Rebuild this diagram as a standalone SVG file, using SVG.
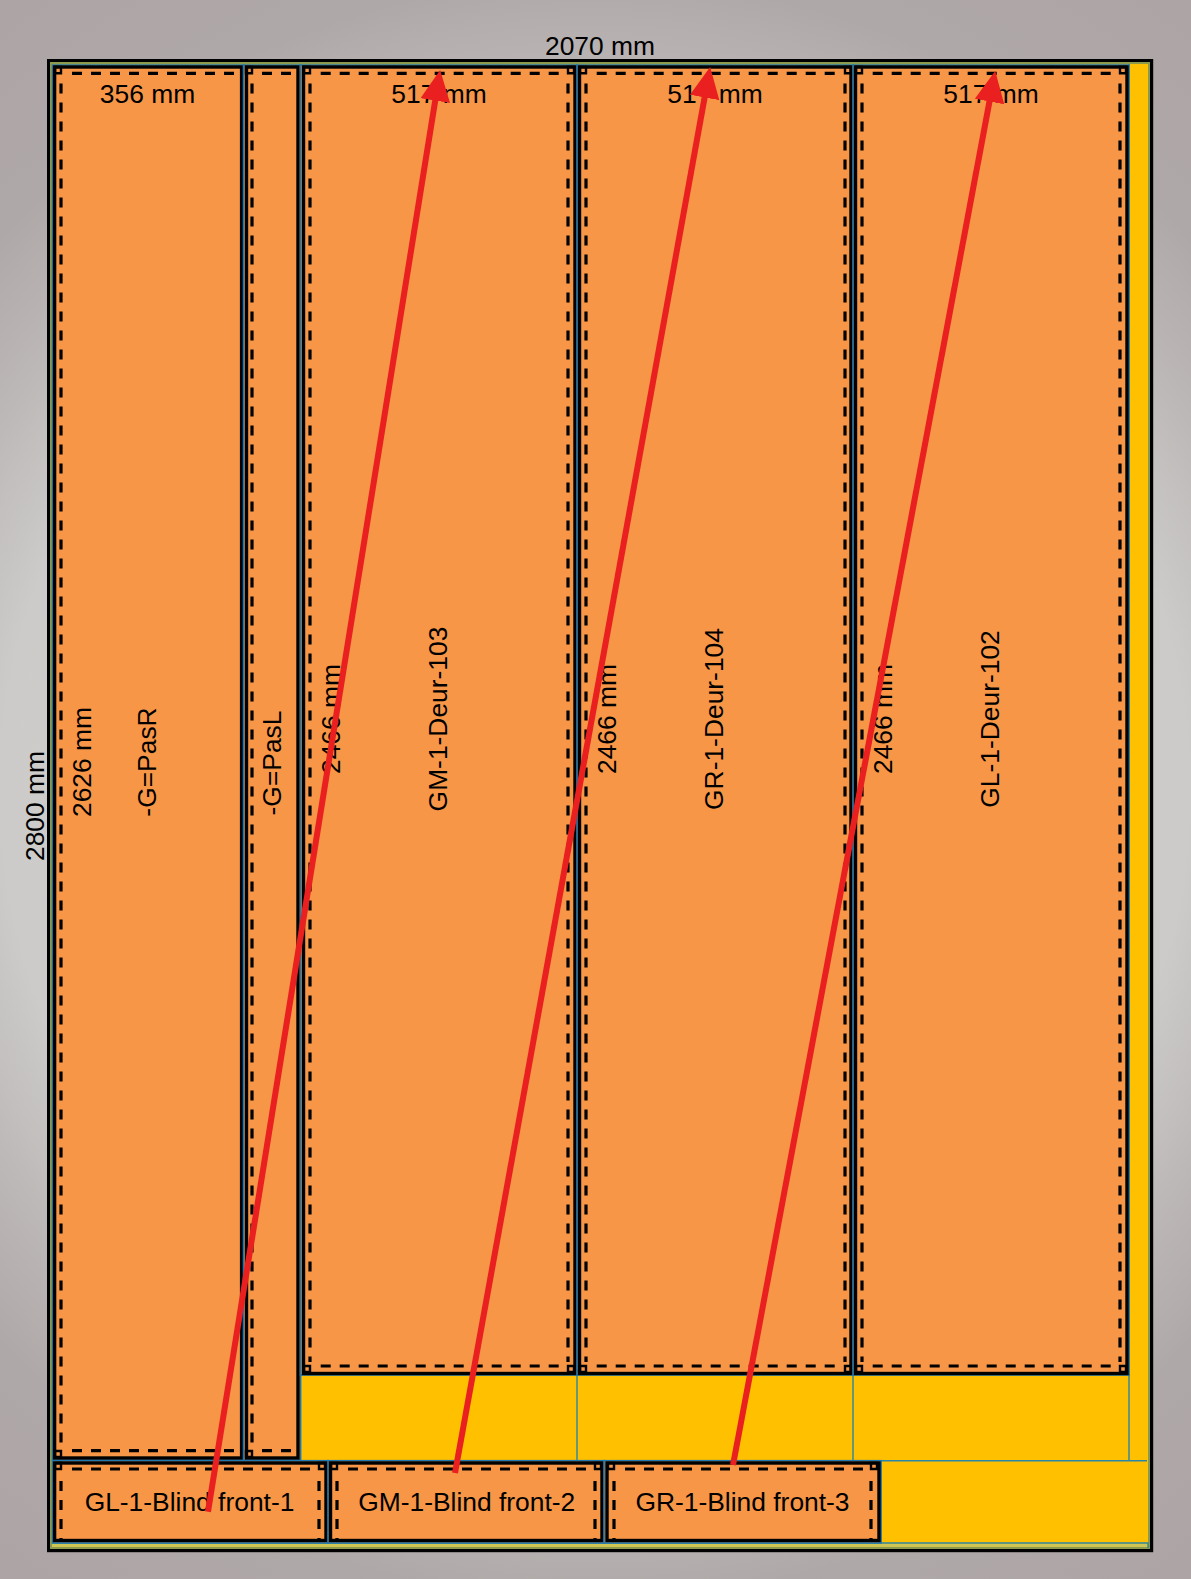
<svg xmlns="http://www.w3.org/2000/svg" width="1191" height="1579" viewBox="0 0 1191 1579">
<style>
.t{font-family:"Liberation Sans",Arial,sans-serif;font-size:26.4px;fill:#000;text-anchor:middle}
.cell{fill:#F79646;stroke:#1F78B0;stroke-width:1.6}
.grid{fill:none;stroke:#2A86A8;stroke-width:1.4}
.box{fill:none;stroke:#000;stroke-width:3.4}
.dash{fill:none;stroke:#000;stroke-width:3.2;stroke-dasharray:10 9}
.sq{fill:none;stroke:#000;stroke-width:2.4}
.arrow{fill:none;stroke:#E9201F;stroke-width:6;marker-end:url(#head)}
</style>
<defs>
<radialGradient id="bg" gradientUnits="userSpaceOnUse" cx="595" cy="790" r="990">
<stop offset="0" stop-color="#D6D5D2"/>
<stop offset="0.6" stop-color="#CCCBC9"/>
<stop offset="0.7" stop-color="#BDB9B8"/>
<stop offset="0.82" stop-color="#AFA8A8"/>
<stop offset="1" stop-color="#ADA4A5"/>
</radialGradient>
<marker id="head" markerUnits="userSpaceOnUse" markerWidth="34" markerHeight="32" refX="5" refY="15" orient="auto">
<path d="M0 0L31 15L0 30z" fill="#E9201F"/>
</marker>
</defs>
<rect width="1191" height="1579" fill="url(#bg)"/>
<g id="frame">
<rect x="48.600" y="60.600" width="1103" height="1490" fill="#FFC000" stroke="#000" stroke-width="3.2"/>
<rect x="51" y="63" width="1098" height="1485" fill="none" stroke="#8C9A4E" stroke-width="2"/>
<rect x="52" y="1544" width="1095" height="3" fill="#CFC552"/>
<path class="grid" d="M300.500 1375V1460.700M577 1375V1460.700M853 1375V1460.700M1129 64V1460.700M300 1460.700H1147M881 1460.700V1543M52.500 1543H1148V1548"/>
<text class="t" x="600" y="54.500">2070 mm</text>
<text class="t" transform="translate(44 806) rotate(-90)">2800 mm</text>
</g>
<g id="GL-PasR">
<rect class="cell" x="52.500" y="65" width="191" height="1395"/>
<rect class="box" x="54.600" y="67" width="187" height="1391"/>
<path class="sq" d="M55 67h6v6.300h-6zM55 1451h6v6h-6z"/>
<path class="dash" d="M72 73.300H236M72 1450.700H236M61 83.500V1446"/>
<text class="t" x="147.500" y="102.700">356 mm</text>
<text class="t" transform="translate(91 762) rotate(-90)">2626 mm</text>
<text class="t" transform="translate(156 762) rotate(-90)">-G=PasR</text>
</g>
<g id="GL-PasL">
<rect class="cell" x="243.500" y="65" width="57" height="1395"/>
<rect class="box" x="246.500" y="67" width="51.500" height="1391"/>
<path class="sq" d="M246 67h6v6.300h-6zM246 1451h6v6h-6z"/>
<path class="dash" d="M262 73.300H292M262 1450.700H292M252 83.500V1446"/>
<text class="t" transform="translate(280.500 763) rotate(-90)">-G=PasL</text>
</g>
<g id="GM-1-Deur-103">
<rect class="cell" x="300.500" y="65" width="276.500" height="1310"/>
<rect class="box" x="303.500" y="67" width="271.500" height="1306.500"/>
<path class="sq" d="M304 67h6v6.300h-6zM568 67h6v6.300h-6zM304 1366h6v6h-6zM568 1366h6v6h-6z"/>
<path class="dash" d="M320.700 73.300H564M320.700 1366H564M310 83.500V1362M568 83.500V1362"/>
<text class="t" x="439" y="103">517 mm</text>
<text class="t" transform="translate(340 719) rotate(-90)">2466 mm</text>
<text class="t" transform="translate(447 719) rotate(-90)">GM-1-Deur-103</text>
</g>
<g id="GR-1-Deur-104">
<rect class="cell" x="577" y="65" width="276" height="1310"/>
<rect class="box" x="579.500" y="67" width="271.500" height="1306.500"/>
<path class="sq" d="M580 67h6v6.300h-6zM845 67h6v6.300h-6zM580 1366h6v6h-6zM845 1366h6v6h-6z"/>
<path class="dash" d="M596.700 73.300H841M596.700 1366H841M586 83.500V1362M845 83.500V1362"/>
<text class="t" x="715" y="103">517 mm</text>
<text class="t" transform="translate(616 719) rotate(-90)">2466 mm</text>
<text class="t" transform="translate(723 719) rotate(-90)">GR-1-Deur-104</text>
</g>
<g id="GL-1-Deur-102">
<rect class="cell" x="853" y="65" width="276" height="1310"/>
<rect class="box" x="855.500" y="67" width="271.500" height="1306.500"/>
<path class="sq" d="M856 67h6v6.300h-6zM1120 67h6v6.300h-6zM856 1366h6v6h-6zM1120 1366h6v6h-6z"/>
<path class="dash" d="M872.700 73.300H1116M872.700 1366H1116M862 83.500V1362M1120 83.500V1362"/>
<text class="t" x="991" y="103">517 mm</text>
<text class="t" transform="translate(892 719) rotate(-90)">2466 mm</text>
<text class="t" transform="translate(999 719) rotate(-90)">GL-1-Deur-102</text>
</g>
<g id="GL-1-Blind-front-1">
<rect class="cell" x="52.500" y="1460.700" width="275.500" height="82.300"/>
<rect class="box" x="54.600" y="1463" width="271.400" height="77.500"/>
<path class="sq" d="M55 1463h6v6h-6zM319 1463h6v6h-6z"/>
<path class="dash" d="M72 1469H316M61 1481V1541M319 1481V1541"/>
<text class="t" x="189.500" y="1510.700">GL-1-Blind front-1</text>
</g>
<g id="GM-1-Blind-front-2">
<rect class="cell" x="328" y="1460.700" width="276" height="82.300"/>
<rect class="box" x="330.500" y="1463" width="271.500" height="77.500"/>
<path class="sq" d="M331 1463h6v6h-6zM595 1463h6v6h-6z"/>
<path class="dash" d="M348 1469H592M337 1481V1541M595 1481V1541"/>
<text class="t" x="466.700" y="1510.700">GM-1-Blind front-2</text>
</g>
<g id="GR-1-Blind-front-3">
<rect class="cell" x="604" y="1460.700" width="277" height="82.300"/>
<rect class="box" x="607" y="1463" width="272" height="77.500"/>
<path class="sq" d="M608 1463h6v6h-6zM871 1463h6v6h-6z"/>
<path class="dash" d="M625 1469H868M614 1481V1541M871 1481V1541"/>
<text class="t" x="742.500" y="1510.700">GR-1-Blind front-3</text>
</g>
<g id="connectors">
<line class="arrow" x1="208" y1="1511.700" x2="436" y2="95.700"/>
<line class="arrow" x1="455" y1="1473" x2="705.500" y2="92.600"/>
<line class="arrow" x1="733" y1="1465" x2="990.400" y2="96.600"/>
</g>
</svg>
